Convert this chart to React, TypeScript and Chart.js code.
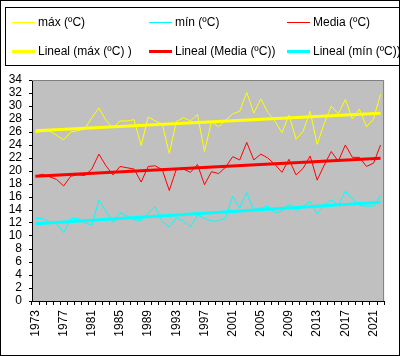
import React, { useEffect, useRef } from "react";
import { Chart, registerables } from "chart.js";

Chart.register(...registerables);

const years = [
  "1973", "1974", "1975", "1976", "1977", "1978", "1979", "1980", "1981", "1982",
  "1983", "1984", "1985", "1986", "1987", "1988", "1989", "1990", "1991", "1992",
  "1993", "1994", "1995", "1996", "1997", "1998", "1999", "2000", "2001", "2002",
  "2003", "2004", "2005", "2006", "2007", "2008", "2009", "2010", "2011", "2012",
  "2013", "2014", "2015", "2016", "2017", "2018", "2019", "2020", "2021", "2022",
];

const maxTemp = [
  25.9, 26.1, 26.1, 25.5, 24.8, 26.0, 26.2, 26.5, 28.2, 29.7,
  27.8, 26.6, 27.7, 27.7, 27.9, 23.9, 28.3, 27.7, 27.2, 22.7,
  27.6, 28.2, 27.7, 28.7, 23.0, 27.6, 26.8, 27.8, 28.8, 29.2,
  32.1, 28.9, 31.1, 29.0, 27.7, 25.9, 28.6, 24.9, 26.1, 29.2,
  24.1, 27.3, 30.0, 28.8, 31.0, 28.0, 29.5, 26.8, 28.0, 31.8,
];

const minTemp = [
  12.7, 12.7, 12.1, 11.9, 10.5, 12.7, 12.7, 12.0, 11.7, 15.5,
  13.8, 12.1, 13.6, 13.1, 12.5, 12.4, 13.5, 14.5, 12.2, 11.4,
  12.8, 12.3, 11.4, 13.2, 12.7, 12.3, 12.3, 12.8, 16.1, 14.3,
  16.7, 14.0, 14.3, 14.6, 13.6, 13.8, 14.9, 13.9, 14.6, 15.3,
  13.4, 14.8, 15.6, 14.7, 16.9, 15.7, 14.7, 14.6, 14.6, 16.2,
];

const meanTemp = [
  19.2, 19.5, 19.1, 18.7, 17.7, 19.2, 19.4, 19.3, 20.3, 22.6,
  20.8, 19.4, 20.7, 20.5, 20.3, 18.3, 20.7, 20.8, 20.2, 17.0,
  20.3, 20.3, 19.8, 21.0, 17.9, 19.9, 19.6, 20.6, 22.2, 21.7,
  24.4, 21.7, 22.6, 22.0, 21.0, 19.8, 21.8, 19.4, 20.4, 22.3,
  18.6, 20.9, 23.0, 21.5, 24.0, 22.1, 22.1, 20.7, 21.2, 24.0,
];

// Linear trend lines (first year, last year)
const trendMaxEnds = [26.2, 28.9];
const trendMeanEnds = [19.2, 21.95];
const trendMinEnds = [11.9, 15.2];

const yMin = 0;
const yMax = 34;
const yStep = 2;

const legendLabels = [
  "máx (ºC)",
  "mín (ºC)",
  "Media (ºC)",
  "Lineal (máx (ºC) )",
  "Lineal (Media (ºC))",
  "Lineal (mín (ºC))",
];

const YELLOW = "#FFFF00";
const CYAN = "#00FFFF";
const RED = "#FF0000";
const FONT = "'Liberation Sans', Arial, sans-serif";

function trendSeries(ends: number[]) {
  const arr: (number | null)[] = years.map(() => null);
  arr[0] = ends[0];
  arr[arr.length - 1] = ends[1];
  return arr;
}

const framePlugin = {
  id: "frame",
  beforeDraw(chart: any) {
    const { ctx, chartArea } = chart;
    ctx.save();
    ctx.fillStyle = "#FFFFFF";
    ctx.fillRect(0, 0, chart.width, chart.height);
    ctx.fillStyle = "#C0C0C0";
    ctx.fillRect(chartArea.left, chartArea.top, chartArea.right - chartArea.left, chartArea.bottom - chartArea.top);
    ctx.restore();
  },
  afterDraw(chart: any) {
    const { ctx, chartArea } = chart;
    ctx.save();
    // plot area top/right border
    ctx.strokeStyle = "#808080";
    ctx.lineWidth = 1;
    ctx.beginPath();
    ctx.moveTo(chartArea.left, chartArea.top + 0.5);
    ctx.lineTo(chartArea.right - 0.5, chartArea.top + 0.5);
    ctx.lineTo(chartArea.right - 0.5, chartArea.bottom);
    ctx.stroke();
    // outer border
    ctx.strokeStyle = "#000000";
    ctx.strokeRect(0.5, 0.5, chart.width - 1, chart.height - 1);
    // legend box
    ctx.strokeRect(5.5, 7.5, chart.width - 6, 58);
    // legend entries
    const cols = [12, 149, 287];
    const rows = [22.5, 51.5];
    const entries = [
      { c: YELLOW, w: 1 },
      { c: CYAN, w: 1 },
      { c: RED, w: 1 },
      { c: YELLOW, w: 3 },
      { c: RED, w: 3 },
      { c: CYAN, w: 3 },
    ];
    ctx.font = `12px ${FONT}`;
    ctx.textBaseline = "middle";
    ctx.textAlign = "left";
    entries.forEach((e, i) => {
      const x = cols[i % 3];
      const y = rows[Math.floor(i / 3)];
      ctx.strokeStyle = e.c;
      ctx.lineWidth = e.w;
      ctx.beginPath();
      ctx.moveTo(x, y);
      ctx.lineTo(x + 23, y);
      ctx.stroke();
      ctx.fillStyle = "#000000";
      ctx.fillText(legendLabels[i], x + 26, y + 0.5);
    });
    ctx.restore();
  },
};

export default function App() {
  const canvasRef = useRef<HTMLCanvasElement | null>(null);

  useEffect(() => {
    if (!canvasRef.current) return;
    const chart = new Chart(canvasRef.current, {
      type: "line",
      data: {
        labels: years,
        datasets: [
          { label: legendLabels[3], data: trendSeries(trendMaxEnds), borderColor: YELLOW, borderWidth: 3, spanGaps: true, order: 0 },
          { label: legendLabels[4], data: trendSeries(trendMeanEnds), borderColor: RED, borderWidth: 3, spanGaps: true, order: 0 },
          { label: legendLabels[5], data: trendSeries(trendMinEnds), borderColor: CYAN, borderWidth: 3, spanGaps: true, order: 0 },
          { label: legendLabels[0], data: maxTemp, borderColor: YELLOW, borderWidth: 1, order: 1 },
          { label: legendLabels[1], data: minTemp, borderColor: CYAN, borderWidth: 1, order: 1 },
          { label: legendLabels[2], data: meanTemp, borderColor: RED, borderWidth: 1, order: 1 },
        ],
      },
      options: {
        animation: false,
        responsive: false,
        devicePixelRatio: 1,
        layout: { padding: { top: 80, right: 5, left: 0, bottom: 0 } },
        plugins: { legend: { display: false }, tooltip: { enabled: false } },
        elements: { point: { radius: 0 }, line: { tension: 0, fill: false } },
        scales: {
          x: {
            type: "category",
            offset: true,
            grid: { offset: true, drawOnChartArea: false, drawTicks: true, tickLength: 4, color: "#000000" },
            border: { color: "#000000", width: 1 },
            ticks: {
              autoSkip: false,
              maxRotation: 90,
              minRotation: 90,
              padding: 5,
              color: "#000000",
              font: { family: FONT, size: 12 },
              callback: (_v: any, i: number) => (i % 4 === 0 ? years[i] : ""),
            },
            afterFit: (s: any) => {
              s.height = 55;
            },
          },
          y: {
            min: yMin,
            max: yMax,
            grid: { drawOnChartArea: false, drawTicks: true, tickLength: 3, color: "#000000" },
            border: { color: "#000000", width: 1 },
            ticks: {
              stepSize: yStep,
              autoSkip: false,
              padding: 7,
              color: "#000000",
              font: { family: FONT, size: 12 },
            },
            afterFit: (s: any) => {
              s.width = 32;
            },
          },
        },
      },
      plugins: [framePlugin],
    } as any);
    return () => chart.destroy();
  }, []);

  return (
    <div style={{ position: "absolute", left: 0, top: 0, width: 400, height: 356 }}>
      <canvas ref={canvasRef} width={400} height={356} style={{ display: "block", width: 400, height: 356 }} />
    </div>
  );
}
